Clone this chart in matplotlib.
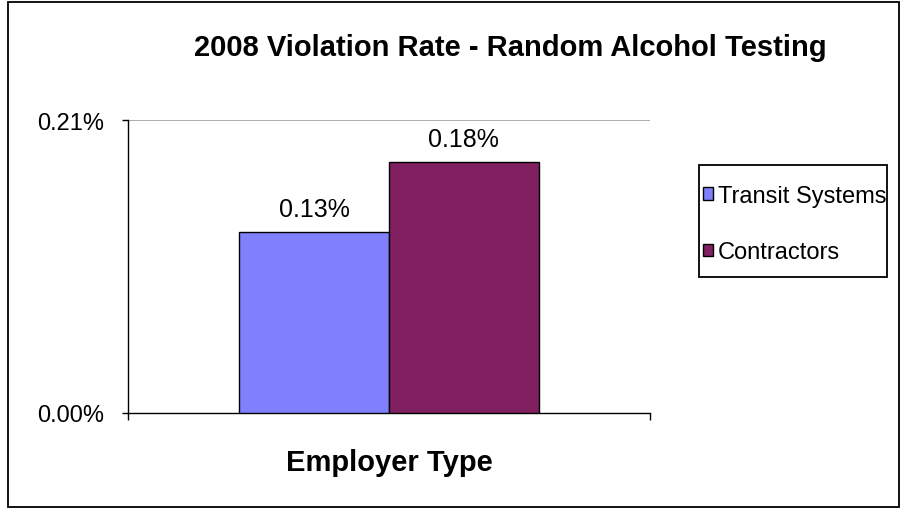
import matplotlib.pyplot as plt
from matplotlib.patches import Rectangle
from matplotlib.ticker import FuncFormatter

plt.rcParams["font.family"] = ["Liberation Sans", "DejaVu Sans"]

# data
series = ["Transit Systems", "Contractors"]
rates = [0.13, 0.18]  # percent
colors = ["#8080FF", "#802060"]
y_ticks = [0.00, 0.21]
title = "2008 Violation Rate - Random Alcohol Testing"
xlabel = "Employer Type"

W, H = 904, 510
fig = plt.figure(figsize=(W / 100, H / 100), dpi=100)

# outer chart border
fig.patches.append(Rectangle((8 / W, 1 - 508 / H), (899 - 8) / W, (508 - 3) / H,
                             transform=fig.transFigure, fill=False,
                             edgecolor="black", linewidth=1.3))

ax = fig.add_axes([128 / W, 1 - 414 / H, (650 - 128) / W, (414 - 121) / H])

bar_w = 0.287
xs = [0.5 - bar_w / 2, 0.5 + bar_w / 2]
for x, v, c, lab in zip(xs, rates, colors, series):
    ax.bar(x, v, width=bar_w, color=c, edgecolor="black", linewidth=1.0,
           label=lab, zorder=3)
    ax.annotate(f"{v:.2f}%", (x, v), xytext=(0, 8), textcoords="offset points",
                ha="center", va="bottom", fontsize=18)

ax.set_xlim(0, 1)
ax.set_ylim(y_ticks[0], y_ticks[-1])
ax.set_yticks(y_ticks)
ax.yaxis.set_major_formatter(FuncFormatter(lambda v, p: f"{v:.2f}%"))
ax.tick_params(axis="y", labelsize=17, length=4, width=1.0, direction="out", pad=13)
ax.set_xticks([0, 1])
ax.set_xticklabels(["", ""])
ax.tick_params(axis="x", length=5, width=1.0, direction="out")

ax.axhline(y_ticks[-1], color="#A0A0A0", linewidth=1.2, zorder=1)

for s in ["top", "right"]:
    ax.spines[s].set_visible(False)
for s in ["left", "bottom"]:
    ax.spines[s].set_linewidth(1.0)

ax.set_xlabel(xlabel, fontsize=21, fontweight="bold", labelpad=17)
fig.text(510 / W, 1 - 48 / H, title, ha="center", va="center",
         fontsize=21, fontweight="bold")

# legend box drawn separately, entries placed inside it
fig.patches.append(Rectangle((699 / W, 1 - 278 / H), (887 - 699) / W, (278 - 166) / H,
                             transform=fig.transFigure, fill=False,
                             edgecolor="black", linewidth=1.3))
leg = fig.legend(loc="center left", bbox_to_anchor=(703 / W, 1 - 225 / H),
                 fontsize=17, frameon=False,
                 handlelength=0.42, handleheight=0.42, handletextpad=0.22,
                 labelspacing=1.45, borderpad=0, borderaxespad=0)

fig.savefig("out.png", dpi=100)
